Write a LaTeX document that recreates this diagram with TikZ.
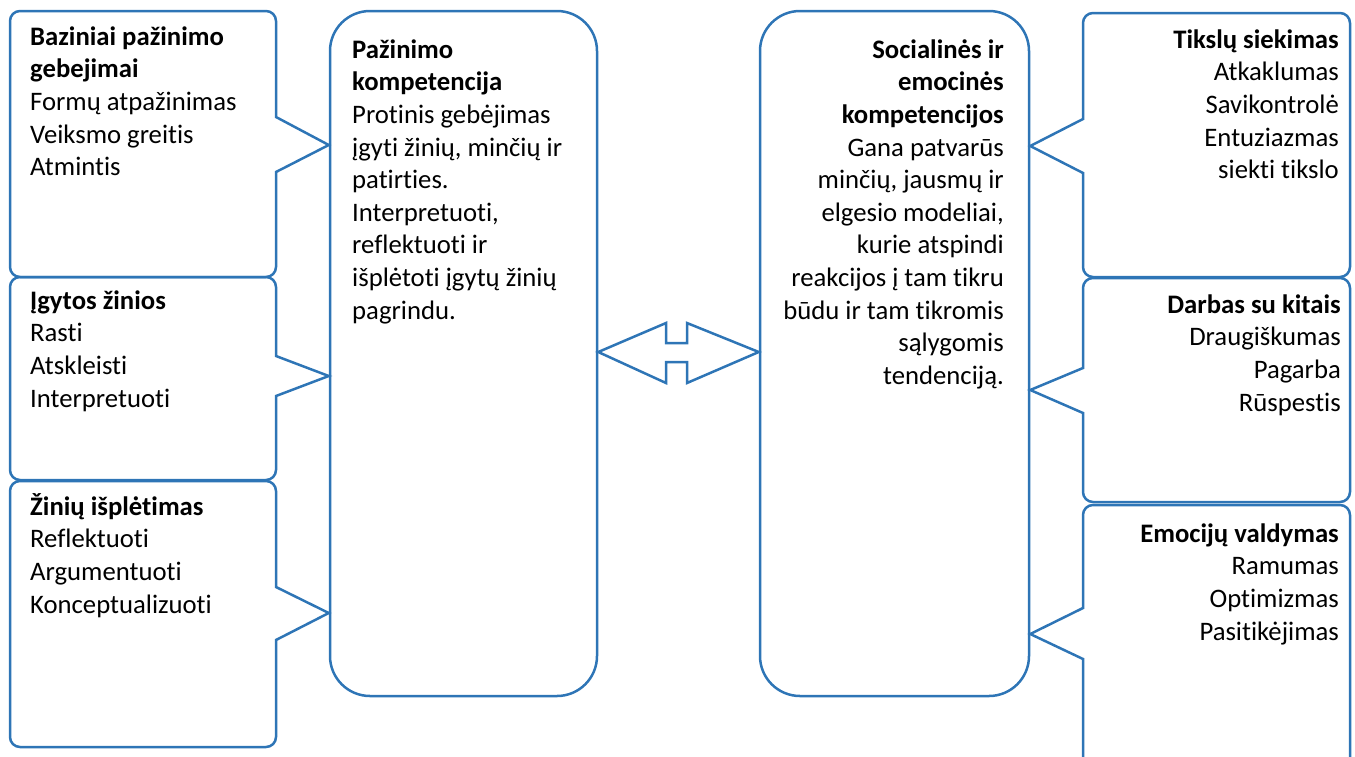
\documentclass[tikz,border=0pt]{standalone}
\usepackage{fontspec}
\setmainfont{Carlito}[Ligatures={NoCommon}]
\definecolor{lineblue}{RGB}{46,117,182}
\tikzset{
  outl/.style={draw=lineblue, line width=2.5pt, line join=miter},
  lbl/.style={inner sep=0pt, font=\fontsize{26.7}{32.6}\selectfont, text=black},
  lblL/.style={lbl, anchor=north west, align=left},
  lblR/.style={lbl, anchor=north east, align=right},
  centerbox/.style={draw=lineblue, line width=2.5pt, rounded corners=40pt, inner sep=0pt}
}
\newcommand{\fl}{\rule{0pt}{25pt}}
\begin{document}
\begin{tikzpicture}[x=1pt,y=-1pt]
\useasboundingbox (0,0) rectangle (1355,756);
\clip (0,0) rectangle (1355,756);
% central boxes
\node[centerbox, minimum width=267pt, minimum height=685pt] (pk) at (463.5,353.5) {};
\node[centerbox, minimum width=269pt, minimum height=685pt] (sek) at (894.5,353.5) {};
% double arrow
\draw[outl] (pk.east |- 0,352) -- (666,323) -- (666,343) -- (687,343) -- (687,323) -- (sek.west |- 0,352) -- (687,383) -- (687,362) -- (666,362) -- (666,383) -- cycle;
% left callouts
\draw[outl] (20,11) -- (266,11) arc[start angle=-90,end angle=0,radius=10] -- (276,117) -- (pk.west |- 0,145) -- (276,172) -- (276,267) arc[start angle=0,end angle=90,radius=10] -- (20,277) arc[start angle=90,end angle=180,radius=10] -- (10,21) arc[start angle=180,end angle=270,radius=10] -- cycle;
\draw[outl] (20,277) -- (266,277) arc[start angle=-90,end angle=0,radius=10] -- (276,356) -- (pk.west |- 0,376) -- (276,396) -- (276,470) arc[start angle=0,end angle=90,radius=10] -- (20,480) arc[start angle=90,end angle=180,radius=10] -- (10,287) arc[start angle=180,end angle=270,radius=10] -- cycle;
\draw[outl] (20,481) -- (266,481) arc[start angle=-90,end angle=0,radius=10] -- (276,587) -- (pk.west |- 0,613) -- (276,640) -- (276,737) arc[start angle=0,end angle=90,radius=10] -- (20,747) arc[start angle=90,end angle=180,radius=10] -- (10,491) arc[start angle=180,end angle=270,radius=10] -- cycle;
% right callouts
\draw[outl] (1093,13) -- (1340,13) arc[start angle=-90,end angle=0,radius=10] -- (1350,267) arc[start angle=0,end angle=90,radius=10] -- (1093,277) arc[start angle=90,end angle=180,radius=10] -- (1083,173) -- (sek.east |- 0,146) -- (1083,119) -- (1083,23) arc[start angle=180,end angle=270,radius=10] -- cycle;
\draw[outl] (1093,278) -- (1340,278) arc[start angle=-90,end angle=0,radius=10] -- (1350,492) arc[start angle=0,end angle=90,radius=10] -- (1093,502) arc[start angle=90,end angle=180,radius=10] -- (1083,413) -- (sek.east |- 0,390) -- (1083,368) -- (1083,288) arc[start angle=180,end angle=270,radius=10] -- cycle;
\draw[outl] (1093,505) -- (1340,505) arc[start angle=-90,end angle=0,radius=10] -- (1350,790) arc[start angle=0,end angle=90,radius=10] -- (1093,800) arc[start angle=90,end angle=180,radius=10] -- (1083,659) -- (sek.east |- 0,634) -- (1083,608) -- (1083,515) arc[start angle=180,end angle=270,radius=10] -- cycle;
% texts
\node[lblL] (t1) at (30,20) {\fl\textbf{Baziniai pažinimo}\\\textbf{gebejimai}\\Formų atpažinimas\\Veiksmo greitis\\Atmintis};
\node[lblL] (t2) at (30,284) {\fl\textbf{Įgytos žinios}\\Rasti\\Atskleisti\\Interpretuoti};
\node[lblL] (t3) at (30,490) {\fl\textbf{Žinių išplėtimas}\\Reflektuoti\\Argumentuoti\\Konceptualizuoti};
\node[lblL] (tpk) at (352,33) {\fl\textbf{Pažinimo}\\\textbf{kompetencija}\\Protinis gebėjimas\\įgyti žinių, minčių ir\\patirties.\\Interpretuoti,\\reflektuoti ir\\išplėtoti įgytų žinių\\pagrindu.};
\node[lblR] (tsek) at (1004,33) {\fl\textbf{Socialinės ir}\\\textbf{emocinės}\\\textbf{kompetencijos}\\Gana patvarūs\\minčių, jausmų ir\\elgesio modeliai,\\kurie atspindi\\reakcijos į tam tikru\\būdu ir tam tikromis\\sąlygomis\\tendenciją.};
\node[lblR] (r1) at (1339,23) {\fl\textbf{Tikslų siekimas}\\Atkaklumas\\Savikontrolė\\Entuziazmas\\siekti tikslo};
\node[lblR] (r2) at (1341,288) {\fl\textbf{Darbas su kitais}\\Draugiškumas\\Pagarba\\Rūspestis};
\node[lblR] (r3) at (1339,517) {\fl\textbf{Emocijų valdymas}\\Ramumas\\Optimizmas\\Pasitikėjimas};
\end{tikzpicture}
\end{document}
